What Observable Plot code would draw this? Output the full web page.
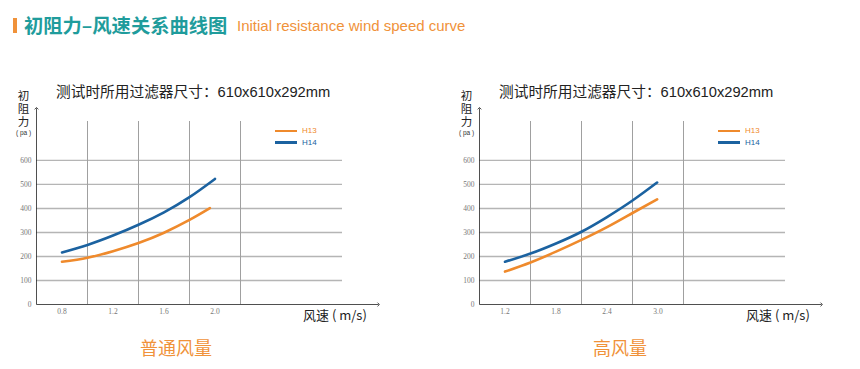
<!DOCTYPE html>
<html><head><meta charset="utf-8">
<script src="https://cdn.jsdelivr.net/npm/d3@7"></script>
<script src="https://cdn.jsdelivr.net/npm/@observablehq/plot@0.6"></script>
<style>
html,body{margin:0;padding:0;background:#fff;}
#wrap{position:relative;width:860px;height:369px;overflow:hidden;font-family:"Noto Sans CJK SC","Noto Sans",sans-serif;}
.abs{position:absolute;white-space:nowrap;}
</style></head>
<body><div id="wrap"></div>
<script>
// ---- data ----
const seriesNames = ["H13", "H14"];
const seriesColors = ["#ef8a2c", "#1b62a0"];
const yTicks = [0, 100, 200, 300, 400, 500, 600];

const normalXTicks = [0.8, 1.2, 1.6, 2.0];
const normalGridX = [1.0, 1.4, 1.8, 2.2];
const normalH13x = [0.8, 1.0, 1.2, 1.4, 1.6, 1.8, 1.96];
const normalH13y = [178, 195, 222, 256, 299, 352, 401];
const normalH14x = [0.8, 1.0, 1.2, 1.4, 1.6, 1.8, 2.0];
const normalH14y = [217, 248, 287, 332, 384, 447, 523];

const highXTicks = [1.2, 1.8, 2.4, 3.0];
const highGridX = [1.5, 2.1, 2.7, 3.3];
const highH13x = [1.2, 1.5, 1.8, 2.1, 2.4, 2.7, 2.99];
const highH13y = [137, 175, 220, 269, 322, 381, 438];
const highH14x = [1.2, 1.5, 1.8, 2.1, 2.4, 2.7, 2.99];
const highH14y = [178, 212, 254, 303, 364, 433, 508];

const titleCN = "初阻力–风速关系曲线图";
const titleEN = "Initial resistance wind speed curve";
const subtitle = "测试时所用过滤器尺寸：610x610x292mm";
const yLabelChars = ["初", "阻", "力"];
const yUnit = "( pa )";
const xLabel = "风速 ( m/s)";
const panelNames = ["普通风量", "高风量"];

// ---- build ----
const wrap = document.getElementById("wrap");
function addText(txt, css) {
  const d = document.createElement("div");
  d.className = "abs";
  d.textContent = txt;
  Object.assign(d.style, css);
  wrap.appendChild(d);
  return d;
}
// title
const bar = document.createElement("div");
Object.assign(bar.style, {position:"absolute", left:"13px", top:"18px", width:"4px", height:"15px", background:"#f0923a"});
wrap.appendChild(bar);
addText(titleCN, {left:"24px", top:"12px", fontSize:"19.3px", fontWeight:"bold", color:"#1f9c9c", lineHeight:"27px"});
addText(titleEN, {left:"237px", top:"15px", fontSize:"15px", color:"#f0923a", fontFamily:"'Liberation Sans',Arial,sans-serif", lineHeight:"22px"});

function panel(offset, domain, xTicks, gridX, h13x, h13y, h14x, h14y, name, nameCenter) {
  const rows = [];
  h13x.forEach((x, i) => rows.push({s: seriesNames[0], x, y: h13y[i]}));
  h14x.forEach((x, i) => rows.push({s: seriesNames[1], x, y: h14y[i]}));
  const yTop = 762;
  const span = domain[1] - domain[0];
  const xArrowEnd = domain[1] + span * 0.118;
  const yArrowEnd = 817;
  const svg = Plot.plot({
    width: 430, height: 369,
    marginTop: 121, marginBottom: 65, marginLeft: 36, marginRight: 88,
    x: {domain, axis: null},
    y: {domain: [0, yTop], axis: null},
    color: {domain: seriesNames, range: seriesColors},
    style: {position: "absolute", left: offset + "px", top: "0px", overflow: "visible", background: "transparent"},
    marks: [
      Plot.gridY(yTicks.filter(d => d > 0), {stroke: "#b5b5b5", strokeOpacity: 1, strokeWidth: 1.4}),
      Plot.gridX(gridX, {stroke: "#a0a0a0", strokeOpacity: 1, strokeWidth: 1}),
      Plot.link([{x1: domain[0], y1: 0, x2: xArrowEnd, y2: 0}], {x1: "x1", y1: "y1", x2: "x2", y2: "y2", stroke: "#222", strokeWidth: 0.8, markerEnd: "arrow", clip: false}),
      Plot.link([{x1: domain[0], y1: 0, x2: domain[0], y2: yArrowEnd}], {x1: "x1", y1: "y1", x2: "x2", y2: "y2", stroke: "#222", strokeWidth: 0.8, markerEnd: "arrow", clip: false}),
      Plot.axisY(yTicks, {tickSize: 0, tickPadding: 5, fontFamily: "'Liberation Serif','DejaVu Serif',serif", fontSize: 7.5, fill: "#777", label: null}),
      Plot.axisX(xTicks, {tickSize: 0, tickPadding: 4, tickFormat: d3.format(".1f"), fontFamily: "'Liberation Serif','DejaVu Serif',serif", fontSize: 7.5, fill: "#777", label: null}),
      Plot.line(rows, {x: "x", y: "y", z: "s", stroke: "s", strokeWidth: 2.6, curve: "natural"})
    ]
  });
  wrap.appendChild(svg);
  // subtitle
  addText(subtitle, {left: (offset + 56) + "px", top: "82px", fontSize: "14.7px", color: "#222", lineHeight: "20px", fontFamily: "'Liberation Sans','Noto Sans CJK SC',sans-serif"});
  // y label (one stacked text element)
  addText(yLabelChars.join("\n"), {left: (offset + 17) + "px", top: "89px", fontSize: "11.5px", color: "#222", lineHeight: "12.8px", width: "13px", textAlign: "center", whiteSpace: "pre"});
  addText(yUnit, {left: (offset + 13) + "px", top: "129px", fontSize: "6.5px", color: "#333", lineHeight: "8px", width: "21px", textAlign: "center", fontFamily: "'Liberation Sans',Arial,sans-serif"});
  // x label
  addText(xLabel, {left: (offset + 303) + "px", top: "306px", fontSize: "13px", color: "#222", lineHeight: "18px"});
  // legend
  seriesNames.forEach((n, i) => {
    const y = 131 + i * 11.7;
    const ln = document.createElement("div");
    Object.assign(ln.style, {position: "absolute", left: (offset + 275) + "px", top: (y - 1.25) + "px", width: "22px", height: "2.5px", background: seriesColors[i]});
    wrap.appendChild(ln);
    addText(n, {left: (offset + 302) + "px", top: (y - 5) + "px", fontSize: "8px", color: seriesColors[i], lineHeight: "10px", fontFamily: "'Liberation Sans',Arial,sans-serif"});
  });
  // panel name
  addText(name, {left: (nameCenter - 60) + "px", width: "120px", textAlign: "center", top: "335px", fontSize: "18px", color: "#f0923a", lineHeight: "24px"});
}
panel(0, [0.6, 3.0], normalXTicks, normalGridX, normalH13x, normalH13y, normalH14x, normalH14y, panelNames[0], 176);
panel(443, [0.9, 4.5], highXTicks, highGridX, highH13x, highH13y, highH14x, highH14y, panelNames[1], 620);
</script></body></html>
